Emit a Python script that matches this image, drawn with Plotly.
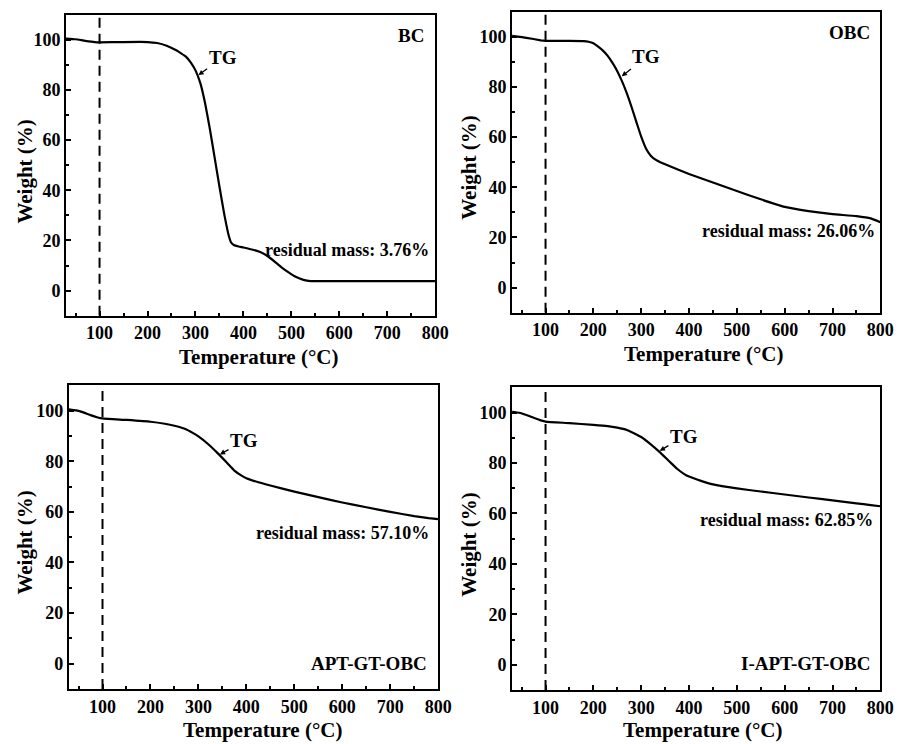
import plotly.graph_objects as go

# --- TG data: temperature (°C) vs remaining weight (%) ---
bc_temp = [30, 50, 70, 90, 100, 150, 200, 220, 240, 260, 270, 280, 290, 300, 310, 320, 330,
           340, 350, 360, 370, 375, 380, 390, 400, 420, 435, 450, 465, 480, 495, 510, 525,
           540, 550, 600, 700, 800]
bc_weight = [100.5, 100.2, 99.6, 99.1, 99.0, 99.1, 99.1, 98.7, 97.6, 95.8, 94.6, 93.3, 91.0,
             87.8, 82.8, 74.8, 64.5, 53.0, 41.5, 30.5, 21.5, 19.0, 18.2, 17.6, 17.2, 16.3,
             15.4, 13.8, 11.6, 9.2, 7.2, 5.4, 4.3, 3.8, 3.76, 3.76, 3.76, 3.76]

obc_temp = [30, 60, 90, 100, 150, 180, 190, 200, 210, 220, 230, 240, 250, 260, 270, 280, 290,
            300, 310, 320, 330, 340, 350, 400, 450, 500, 550, 600, 650, 700, 750, 780, 800]
obc_weight = [100.4, 99.6, 98.6, 98.4, 98.4, 98.3, 98.0, 97.4, 96.1, 94.5, 92.4, 89.6, 86.3,
              82.2, 77.4, 71.9, 66.0, 60.2, 55.5, 52.6, 51.0, 50.0, 49.2, 45.3, 41.9, 38.5,
              35.2, 32.2, 30.5, 29.3, 28.5, 27.6, 26.06]

apt_temp = [30, 45, 60, 75, 90, 100, 150, 200, 230, 250, 270, 290, 300, 320, 340, 360, 375,
            390, 400, 425, 450, 500, 550, 600, 650, 700, 750, 780, 800]
apt_weight = [100.5, 100.1, 99.3, 98.2, 97.3, 96.9, 96.3, 95.6, 94.8, 94.0, 92.9, 91.0, 89.8,
              86.8, 83.2, 79.3, 76.3, 74.3, 73.3, 71.7, 70.4, 68.0, 65.8, 63.7, 61.8, 60.0,
              58.3, 57.5, 57.10]

iapt_temp = [30, 45, 60, 75, 90, 100, 150, 200, 230, 250, 270, 290, 300, 320, 340, 360, 375,
             390, 400, 425, 450, 500, 550, 600, 650, 700, 750, 780, 800]
iapt_weight = [100.3, 99.9, 99.0, 97.9, 96.9, 96.4, 95.8, 95.1, 94.6, 94.0, 93.1, 91.3, 90.3,
               87.4, 84.1, 80.4, 77.7, 75.6, 74.6, 72.9, 71.5, 69.9, 68.7, 67.5, 66.3, 65.2,
               64.0, 63.3, 62.85]

panel_names = ["BC", "OBC", "APT-GT-OBC", "I-APT-GT-OBC"]
residual_labels = ["residual mass: 3.76%", "residual mass: 26.06%",
                   "residual mass: 57.10%", "residual mass: 62.85%"]
x_title = "Temperature (°C)"
y_title = "Weight (%)"
x_ticks = [100, 200, 300, 400, 500, 600, 700, 800]
y_ticks = [0, 20, 40, 60, 80, 100]
dry_temp = 100  # dashed marker for moisture loss

series = [(bc_temp, bc_weight), (obc_temp, obc_weight),
          (apt_temp, apt_weight), (iapt_temp, iapt_weight)]

W, H = 917, 744
# plot-area boxes in pixels: (left, right, top, bottom)
boxes = [(67, 442, 14.7, 315.7), (520, 894, 11.7, 312.7),
         (70, 445, 385.3, 689), (520, 894, 387.3, 690)]
# axis-title centres in pixels: (x-title cx, cy), (y-title cx, cy)
x_title_pos = [(263, 357), (714, 354), (267, 730), (713, 730)]
y_title_pos = [(25, 172), (476, 168), (25, 543), (476, 545)]
# TG arrow: head on curve (T, W) and text offset in px
tg_arrows = [(304.5, 85.7, 25, -18), (257.7, 84.0, 25, -20),
             (343, 82.5, 25, -14), (337, 84.6, 25, -15)]
residual_pos = [(791, 16.2), (792, 22.5), (784, 51.8), (788, 57.3)]
name_pos = [(780, 101.6), (783, 101.7), (780, 0), (785, 0.4)]

FONT = "Liberation Serif"


def bold(v):
    return "<b>%s</b>" % v


fig = go.Figure()
annotations = []
shapes = []

for i, ((t, w), box) in enumerate(zip(series, boxes)):
    n = "" if i == 0 else str(i + 1)
    xa, ya = "x" + n, "y" + n
    l, r, tp, bt = box
    fig.add_trace(go.Scatter(x=t, y=w, mode="lines", xaxis=xa, yaxis=ya,
                             line=dict(color="black", width=2.2, shape="spline", smoothing=0.4),
                             showlegend=False, hoverinfo="skip"))
    axis_common = dict(showline=True, linecolor="black", linewidth=2, mirror=True,
                       ticks="inside", ticklen=5, tickwidth=2, tickcolor="black",
                       showgrid=False, zeroline=False,
                       tickfont=dict(family=FONT, size=18, color="black"))
    fig.layout["xaxis" + n] = dict(
        axis_common, domain=[l / W, r / W], anchor=ya, range=[30, 800],
        tickvals=x_ticks, ticktext=[bold(v) for v in x_ticks],
        minor=dict(ticks="inside", ticklen=3, tickwidth=2, tickcolor="black", dtick=50, tick0=0))
    fig.layout["yaxis" + n] = dict(
        axis_common, domain=[1 - bt / H, 1 - tp / H], anchor=xa, range=[-10, 110],
        tickvals=y_ticks, ticktext=[bold(v) for v in y_ticks],
        minor=dict(ticks="inside", ticklen=3, tickwidth=2, tickcolor="black", dtick=10, tick0=0))
    shapes.append(dict(type="line", xref=xa, yref=ya, x0=dry_temp, x1=dry_temp, y0=-10, y1=110,
                       line=dict(color="black", width=2, dash="10px,6px")))
    # axis titles
    cx, cy = x_title_pos[i]
    annotations.append(dict(xref="paper", yref="paper", x=cx / W, y=1 - cy / H,
                            text=bold(x_title), showarrow=False,
                            xanchor="center", yanchor="middle",
                            font=dict(family=FONT, size=21, color="black")))
    cx, cy = y_title_pos[i]
    annotations.append(dict(xref="paper", yref="paper", x=cx / W, y=1 - cy / H,
                            text=bold(y_title), showarrow=False, textangle=-90,
                            xanchor="center", yanchor="middle",
                            font=dict(family=FONT, size=21, color="black")))
    hx, hy, ax, ay = tg_arrows[i]
    annotations.append(dict(xref=xa, yref=ya, x=hx, y=hy, text=bold("TG"), showarrow=True,
                            arrowhead=2, arrowsize=0.8, arrowwidth=1.3, arrowcolor="black",
                            ax=ax, ay=ay, standoff=1,
                            font=dict(family=FONT, size=19, color="black")))
    rx, ry = residual_pos[i]
    annotations.append(dict(xref=xa, yref=ya, x=rx, y=ry, text=bold(residual_labels[i]),
                            showarrow=False, xanchor="right", yanchor="middle",
                            font=dict(family=FONT, size=18, color="black")))
    px_, py_ = name_pos[i]
    annotations.append(dict(xref=xa, yref=ya, x=px_, y=py_, text=bold(panel_names[i]),
                            showarrow=False, xanchor="right", yanchor="middle",
                            font=dict(family=FONT, size=19, color="black")))

fig.update_layout(width=W, height=H, autosize=False, margin=dict(l=0, r=0, t=0, b=0),
                  paper_bgcolor="white", plot_bgcolor="white",
                  annotations=annotations, shapes=shapes,
                  font=dict(family=FONT, color="black"))
fig.write_html("out.html", config={"responsive": False})
